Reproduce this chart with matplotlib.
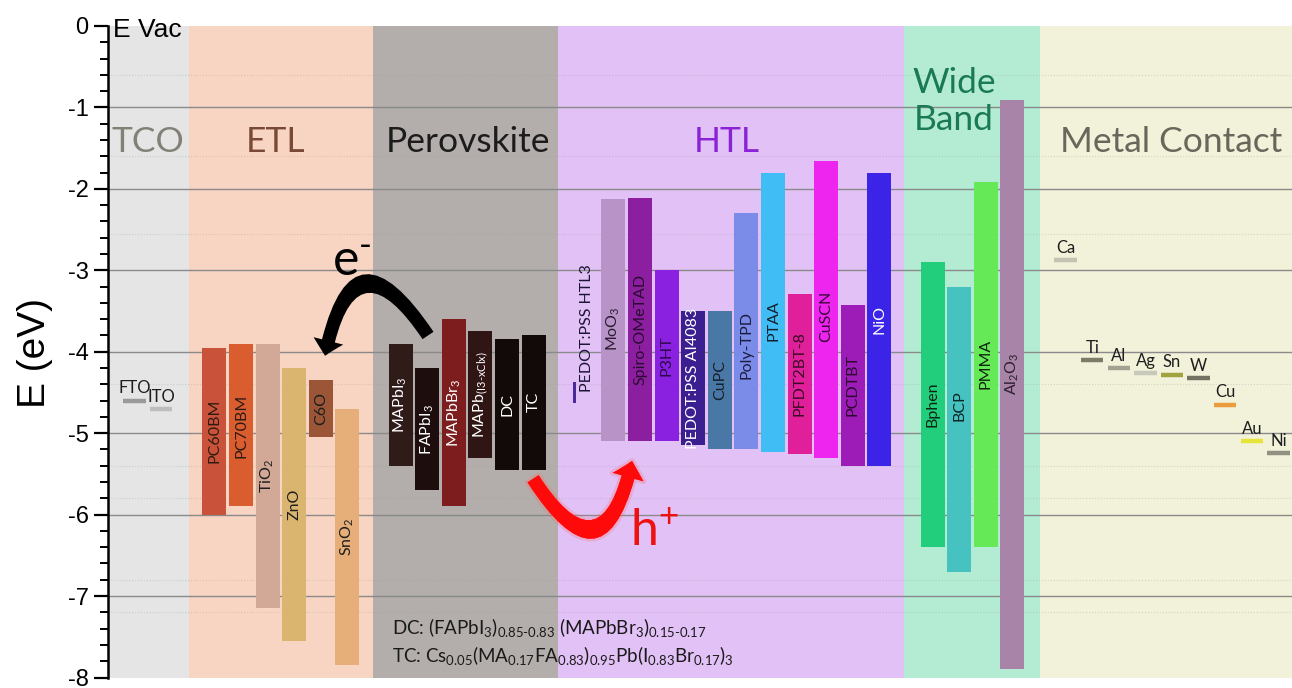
import matplotlib
matplotlib.use("Agg")
import matplotlib.pyplot as plt
import matplotlib.patheffects as pe
from matplotlib.patches import FancyArrowPatch
from matplotlib.ticker import MultipleLocator
import numpy as np

plt.rcParams["axes.unicode_minus"] = False
plt.rcParams["mathtext.fontset"] = "custom"
plt.rcParams["mathtext.rm"] = "Lato"
plt.rcParams["mathtext.it"] = "Lato:italic"
plt.rcParams["mathtext.bf"] = "Lato:bold"

# ---------------- energy levels (eV, relative to vacuum) ----------------
region_names = ["TCO", "ETL", "Perovskite", "HTL", "Wide\nBand", "Metal Contact"]

tco_names = ["FTO", "ITO"]
tco_levels = [-4.6, -4.7]

etl_names = ["PC60BM", "PC70BM", r"TiO$_2$", "ZnO", "C6O", r"SnO$_2$"]
etl_upper = [-3.95, -3.91, -3.90, -4.20, -4.35, -4.70]
etl_lower = [-6.00, -5.90, -7.15, -7.55, -5.05, -7.85]

pero_names = [r"MAPbI$_3$", r"FAPbI$_3$", r"MAPbBr$_3$",
              r"MAPb$_{\mathrm{(I3\text{-}xClx)}}$", "DC", "TC"]
pero_upper = [-3.91, -4.20, -3.60, -3.75, -3.84, -3.79]
pero_lower = [-5.40, -5.70, -5.90, -5.30, -5.45, -5.45]

htl3_name = "PEDOT:PSS HTL3"
htl3_upper = -4.37
htl3_lower = -4.63

htl_names = [r"MoO$_3$", "Spiro-OMeTAD", "P3HT", "PEDOT:PSS AI4083", "CuPC",
             "Poly-TPD", "PTAA", "PFDT2BT-8", "CuSCN", "PCDTBT", "NiO"]
htl_upper = [-2.13, -2.11, -3.00, -3.50, -3.50, -2.30, -1.81, -3.29, -1.66, -3.42, -1.81]
htl_lower = [-5.10, -5.10, -5.10, -5.15, -5.20, -5.20, -5.23, -5.25, -5.30, -5.40, -5.40]

wide_names = ["Bphen", "BCP", "PMMA", r"Al$_2$O$_3$"]
wide_upper = [-2.90, -3.21, -1.91, -0.91]
wide_lower = [-6.40, -6.70, -6.40, -7.89]

metal_names = ["Ca", "Ti", "Al", "Ag", "Sn", "W", "Cu", "Au", "Ni"]
metal_levels = [-2.87, -4.10, -4.20, -4.26, -4.28, -4.32, -4.65, -5.10, -5.24]

dc_formula = r"DC: (FAPbI$_3$)$_{0.85\text{-}0.83}$ (MAPbBr$_3$)$_{0.15\text{-}0.17}$"
tc_formula = r"TC: Cs$_{0.05}$(MA$_{0.17}$FA$_{0.83}$)$_{0.95}$Pb(I$_{0.83}$Br$_{0.17}$)$_3$"

# ---------------- layout & styling ----------------
region_edges = [0.0, 3.05, 9.96, 16.92, 29.92, 35.04, 44.51]
region_fill = ["#e5e5e5", "#f8d4c3", "#b3aeab", "#e2c1f6", "#b4ecd3", "#f2f1da"]
region_text_color = ["#818178", "#7a4936", "#1c1c1c", "#8a22d6", "#1b7a56", "#67675b"]
region_label_x = [1.5, 6.28, 13.53, 23.27, 31.8, 39.98]
region_label_y = [-1.43, -1.43, -1.43, -1.43, -0.93, -1.43]

tco_slots = [1, 2]
tco_colors = ["#9a9a9a", "#bdbdbd"]

etl_start = 4
etl_colors = ["#c9533a", "#d95d2f", "#d2a897", "#dab56f", "#9b5537", "#e6ae79"]
etl_text = ["#2e1a12", "#2e1a12", "#1e1e1e", "#1e1e1e", "#1e1e1e", "#1e1e1e"]

pero_start = 11
pero_colors = ["#2f1b18", "#1d0d0d", "#7d1d1e", "#301515", "#120a08", "#120a08"]

htl3_slot = 17.55
htl3_color = "#4a2a9a"
htl_start = 19
htl_colors = ["#b893c7", "#8c1fa0", "#8a20e0", "#3b1e8f", "#4a78a6", "#7b8be8",
              "#40bdf5", "#e0209a", "#ee25ee", "#9d1cb8", "#3b24e8"]
htl_text = ["#2a1c30", "#2a0a30", "#2a0a45", "white", "#14202c", "#1c1c40",
            "#14202c", "#3a0a22", "#3a0a3a", "#2a0a2a", "white"]
htl_label_shift = [-0.10, -0.12, 0.0, 0.0, 0.0, -0.17, -0.10, 0.0, -0.09, 0.0, 0.0]

wide_start = 31
wide_colors = ["#22cd7b", "#46c3c0", "#66e956", "#a884a8"]
wide_text = ["#0c2416", "#0c2424", "#0c240c", "#2e202e"]
wide_label_shift = [0.0, 0.29, 0.0, 0.13]

metal_start = 36
metal_colors = ["#c3c3b2", "#7b7b68", "#a2a292", "#c9c9b9", "#a2a23e",
                "#737363", "#eb9c3c", "#e6e43a", "#929282"]

bar_w = 0.9
label_font = "Lato"
label_size = 11.5

fig = plt.figure(figsize=(12.92, 6.88), dpi=100)
ax = fig.add_axes([108 / 1292, 10.5 / 688, 1184 / 1292, 651.5 / 688])
ax.set_xlim(region_edges[0], region_edges[-1])
ax.set_ylim(-8, 0)

# region backgrounds and their titles
for i in range(len(region_names)):
    ax.axvspan(region_edges[i], region_edges[i + 1], color=region_fill[i], lw=0, zorder=0)
    ax.text(region_label_x[i], region_label_y[i], region_names[i], fontsize=25.5,
            family=label_font, color=region_text_color[i], ha="center", va="center",
            linespacing=1.2, zorder=5)

# horizontal reference lines
for yv in range(-1, -8, -1):
    ax.axhline(yv, color="#8a8a8a", lw=1.0, zorder=1)
for yv in [-0.6, -1.6, -2.55, -4.4, -5.4, -5.8, -6.8, -7.2]:
    ax.axhline(yv, color="#9a9a9a", lw=0.8, ls=":", alpha=0.35, zorder=1)


def draw_bars(start, names, upper, lower, colors, text_colors, shifts=None):
    x = start + np.arange(len(names))
    up = np.asarray(upper)
    lo = np.asarray(lower)
    ax.bar(x, up - lo, bottom=lo, width=bar_w, color=colors, lw=0, zorder=3)
    for k in range(len(names)):
        yc = (up[k] + lo[k]) / 2 + (shifts[k] if shifts else 0.0)
        ax.text(x[k], yc, names[k], rotation=90, ha="center", va="center",
                fontsize=label_size, family=label_font, color=text_colors[k], zorder=4)


draw_bars(etl_start, etl_names, etl_upper, etl_lower, etl_colors, etl_text)
draw_bars(pero_start, pero_names, pero_upper, pero_lower, pero_colors,
          ["white"] * len(pero_names))
draw_bars(htl_start, htl_names, htl_upper, htl_lower, htl_colors, htl_text, htl_label_shift)
draw_bars(wide_start, wide_names, wide_upper, wide_lower, wide_colors, wide_text,
          wide_label_shift)

# PEDOT:PSS HTL3 narrow range
ax.bar([htl3_slot], [htl3_upper - htl3_lower], bottom=[htl3_lower], width=0.12,
       color=htl3_color, lw=0, zorder=3)
ax.text(htl3_slot + 0.45, htl3_lower + 0.14, htl3_name, rotation=90, ha="center",
        va="bottom", fontsize=label_size, family=label_font, color="#1c1436", zorder=4)


# work-function levels (TCO and metals)
def draw_levels(slots, names, levels, colors, half=0.42):
    slots = np.asarray(slots, dtype=float)
    ax.hlines(levels, slots - half, slots + half, colors=colors, lw=3.2, zorder=3)
    for s, n, lv in zip(slots, names, levels):
        ax.annotate(n, (s, lv), xytext=(0, 5.2), textcoords="offset points",
                    ha="center", va="baseline", fontsize=12, family=label_font,
                    color="#1e1e1e", zorder=4)


draw_levels(tco_slots, tco_names, tco_levels, tco_colors)
draw_levels(metal_start + np.arange(len(metal_names)), metal_names, metal_levels,
            metal_colors)

# charge transfer arrows
e_arrow = FancyArrowPatch((12.03, -3.80), (8.16, -4.05),
                          connectionstyle="arc3,rad=1.2",
                          arrowstyle="simple,head_length=11,head_width=22,tail_width=9.5",
                          color="black", lw=0, shrinkA=0, shrinkB=0, zorder=6)
ax.add_patch(e_arrow)
h_arrow = FancyArrowPatch((15.98, -5.56), (19.70, -5.34),
                          connectionstyle="arc3,rad=1.2",
                          arrowstyle="simple,head_length=12,head_width=23,tail_width=9.5",
                          color="#ff0a0a", lw=0, shrinkA=0, shrinkB=0, zorder=6)
h_arrow.set_path_effects([pe.withStroke(linewidth=4, foreground=(1, 0.4, 0.4, 0.25))])
ax.add_patch(h_arrow)
ax.text(8.42, -3.07, r"e$^{\text{-}}$", fontsize=36, family=label_font, color="black",
        ha="left", va="baseline", zorder=6)
ax.text(19.62, -6.38, r"h$^{+}$", fontsize=36, family=label_font, color="#ee1111",
        ha="left", va="baseline", zorder=6)

# composition notes
ax.text(10.66, -7.47, dc_formula, fontsize=13.5, family=label_font, color="#1a1a1a",
        ha="left", va="baseline", zorder=6)
ax.text(10.66, -7.81, tc_formula, fontsize=13.5, family=label_font, color="#1a1a1a",
        ha="left", va="baseline", zorder=6)

ax.text(0.19, -0.14, "E Vac", fontsize=19, family="Liberation Sans", color="black",
        ha="left", va="baseline", zorder=6)

# axes styling
for side in ["top", "right", "bottom"]:
    ax.spines[side].set_visible(False)
ax.spines["left"].set_linewidth(1.8)
ax.set_xticks([])
ax.yaxis.set_minor_locator(MultipleLocator(0.2))
ax.set_yticks(np.arange(-8, 1, 1))
ax.set_yticklabels([str(v) for v in range(-8, 1)], family="Liberation Sans")
ax.tick_params(axis="y", which="major", length=10, width=1.6, pad=4,
               labelsize=17, direction="out")
ax.tick_params(axis="y", which="minor", length=6, width=1.4, direction="out")
for tick in ax.yaxis.get_major_ticks():
    tick.label1.set_verticalalignment("center_baseline")

fig.text(35 / 1292, 1 - 353 / 688, "E (eV)", rotation=90, ha="center", va="center",
         fontsize=28, family="Liberation Sans")

fig.savefig("out.png", dpi=100, facecolor="white")
